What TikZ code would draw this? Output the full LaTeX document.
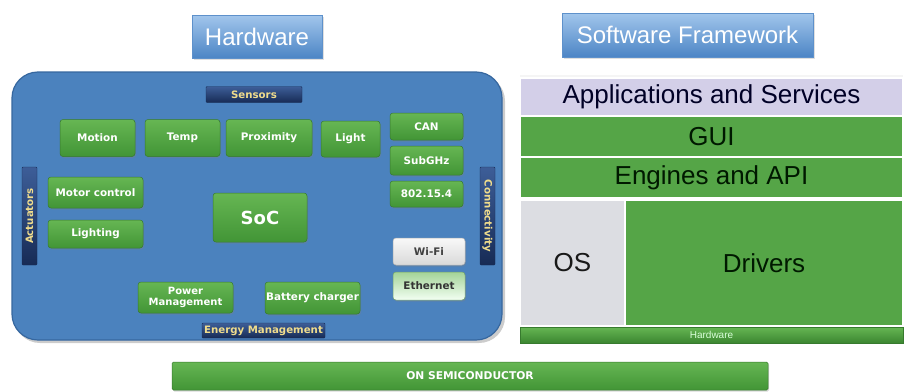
\documentclass[tikz,border=0pt]{standalone}
\usepackage{fontspec}
\setmainfont{Liberation Sans}
\newfontfamily\boxfont{DejaVu Sans}
\usetikzlibrary{shadows}
\definecolor{hwblue}{HTML}{4B82BE}
\definecolor{hwblueedge}{HTML}{36679F}
\definecolor{gtop}{HTML}{66B653}
\definecolor{gbot}{HTML}{429536}
\definecolor{gedge}{HTML}{377A2E}
\definecolor{navytop}{HTML}{3D5E98}
\definecolor{navybot}{HTML}{172B55}
\definecolor{labeltext}{HTML}{F0DC8C}
\definecolor{ttop}{HTML}{A2C6EC}
\definecolor{tbot}{HTML}{4C85C5}
\definecolor{swgreen}{HTML}{55A547}
\definecolor{lav}{HTML}{D3CFE8}
\definecolor{osgray}{HTML}{DCDDE2}
\begin{document}
\begin{tikzpicture}[x=1pt,y=-1pt,
  titlebox/.style={rectangle, draw=tbot!90!white, line width=0.5pt, top color=ttop, bottom color=tbot,
    text=white, font=\fontsize{24}{27}\selectfont, inner sep=0pt,
    drop shadow={opacity=0.25, shadow xshift=1.5pt, shadow yshift=-1.5pt}},
  gbox/.style={rectangle, rounded corners=3pt, draw=gedge, line width=0.5pt, top color=gtop, bottom color=gbot,
    text=white, font=\boxfont\bfseries\fontsize{10.4}{11.5}\selectfont, inner sep=1pt, align=center,
    drop shadow={opacity=0.3, shadow xshift=1pt, shadow yshift=-1.5pt}},
  nlabel/.style={rectangle, rounded corners=1pt, top color=navytop, bottom color=navybot, draw=navybot,
    text=labeltext, font=\boxfont\bfseries\fontsize{10.2}{11}\selectfont, inner sep=0pt},
  layer/.style={rectangle, draw=white, line width=1.2pt, inner sep=0pt, font=\fontsize{26}{30}\selectfont}
]
\useasboundingbox (0,0) rectangle (904,391);
\fill[white] (0,0) rectangle (904,391);

% titles
\node[titlebox, minimum width=130pt, minimum height=43pt] (hwtitle) at (257,36.5) {Hardware};
\node[titlebox, minimum width=251pt, minimum height=44pt] (swtitle) at (687.5,35) {Software Framework};

% hardware panel
\fill[black, opacity=0.2, rounded corners=26pt] (14,75) rectangle (505,343);
\node[rectangle, rounded corners=26pt, fill=hwblue, draw=hwblueedge, line width=1.2pt,
  minimum width=490pt, minimum height=268pt, inner sep=0pt] (hwpanel) at (257,206) {};

\node[nlabel, minimum width=96pt, minimum height=16pt] (sensors) at (254,94.5) {Sensors};
\node[nlabel, minimum width=123pt, minimum height=15pt] (energy) at (263.5,330.5) {Energy Management};
\node[nlabel, minimum width=98pt, minimum height=15pt, rotate=90] (actuators) at (29.5,216) {Actuators};
\node[nlabel, minimum width=98pt, minimum height=15pt, rotate=-90] (connect) at (487.5,216) {Connectivity};

\node[gbox, minimum width=75pt, minimum height=37pt] (motion) at (97.5,138) {Motion};
\node[gbox, minimum width=75pt, minimum height=37pt] (temp) at (182.5,138) {Temp};
\node[gbox, minimum width=86pt, minimum height=37pt] (prox) at (269,138) {Proximity};
\node[gbox, minimum width=59pt, minimum height=36pt] (light) at (350.5,139) {Light};

\node[gbox, minimum width=73pt, minimum height=27pt] (can) at (426.5,126.5) {CAN};
\node[gbox, minimum width=73pt, minimum height=29pt] (subghz) at (426.5,160.5) {SubGHz};
\node[gbox, minimum width=73pt, minimum height=26pt] (ieee) at (426.5,194) {802.15.4};

\node[gbox, minimum width=95pt, minimum height=31pt] (motor) at (95.5,192.5) {Motor control};
\node[gbox, minimum width=95pt, minimum height=28pt] (lighting) at (95.5,234) {Lighting};

\node[gbox, minimum width=94pt, minimum height=49pt, font=\boxfont\bfseries\fontsize{18}{20}\selectfont] (soc) at (260,217.5) {SoC};

\node[gbox, minimum width=72pt, minimum height=27pt, top color=white!95!gray, bottom color=gray!30, draw=gray!60,
  text=black!75] (wifi) at (429,251.5) {Wi-Fi};
\node[gbox, minimum width=72pt, minimum height=28pt, top color=gtop!60!white, bottom color=white!95!green, draw=gedge!70,
  text=black!80] (eth) at (429,286) {Ethernet};

\node[gbox, minimum width=95pt, minimum height=31pt, font=\boxfont\bfseries\fontsize{10}{10.5}\selectfont] (power) at (185.5,297.5) {Power\\Management};
\node[gbox, minimum width=95pt, minimum height=32pt] (battery) at (312.5,298) {Battery charger};

% ON Semiconductor bar
\node[gbox, rounded corners=1.5pt, minimum width=596pt, minimum height=28pt, top color=gtop, bottom color=gbot,
  font=\boxfont\bfseries\fontsize{10.7}{11}\selectfont] (onsemi) at (470,376) {ON SEMICONDUCTOR};

% software stack
\node[rectangle, fill=gray!8, minimum width=383pt, minimum height=4pt, inner sep=0pt] (topstrip) at (711.5,77) {};
\node[layer, fill=lav, minimum width=383pt, minimum height=38pt, text=black!85!blue] (apps) at (711.5,97) {Applications and Services};
\node[layer, fill=swgreen, minimum width=383pt, minimum height=41pt, text=black!90!green] (gui) at (711.5,136.5) {GUI};
\node[layer, fill=swgreen, minimum width=383pt, minimum height=41pt, text=black!90!green] (engines) at (711.5,177.5) {Engines and API};
\node[layer, fill=osgray, minimum width=105pt, minimum height=126pt, text=black!90] (os) at (572.5,263) {OS};
\node[layer, fill=swgreen, minimum width=278pt, minimum height=126pt, text=black!90!green] (drivers) at (764,263) {Drivers};
\node[layer, top color=gtop, bottom color=gbot!90!black, draw=gedge, line width=0.5pt, minimum width=383pt, minimum height=16pt,
  text=green!15!white, font=\fontsize{10}{11}\selectfont] (hwbar) at (711.5,335) {Hardware};
\end{tikzpicture}
\end{document}
